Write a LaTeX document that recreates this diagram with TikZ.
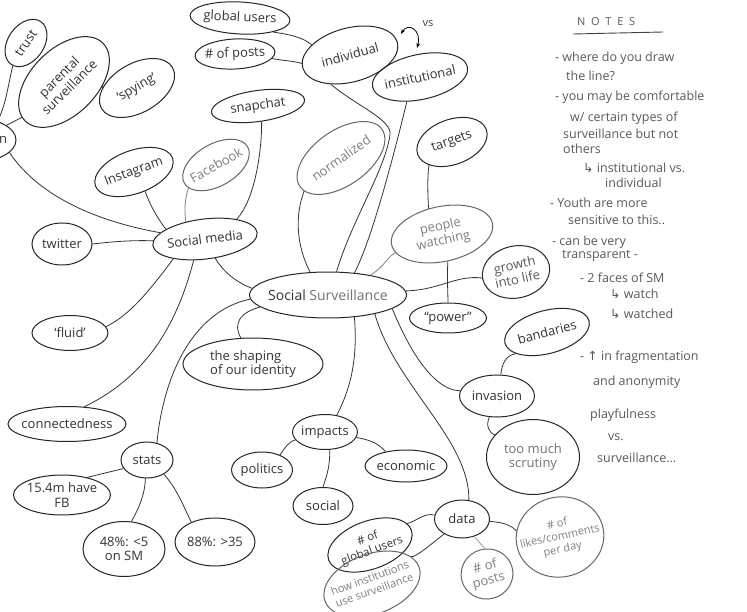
\documentclass[tikz,border=0pt]{standalone}
\usepackage{fontspec}
\setmainfont{Open Sans}
\newfontfamily\sym{DejaVu Sans}
\usetikzlibrary{shapes.geometric,arrows.meta}
\begin{document}
\begin{tikzpicture}[x=1pt,y=-1pt,
  bub/.style={ellipse,draw=black!85,line width=1pt,inner sep=-25pt,
    font=\fontsize{13}{14.5}\selectfont,align=center,text=black!80},
  lite/.style={text=black!50,draw=black!60},
  con/.style={draw=black!80,line width=0.8pt},
  note/.style={anchor=west,inner sep=0pt,font=\fontsize{12.5}{14}\selectfont,text=black!65}]
\useasboundingbox (0,0) rectangle (747,612);
\fill[white] (0,0) rectangle (747,612);

% ---------- nodes ----------
\node[bub,minimum width=52,minimum height=36,rotate=55] (trust) at (26,43) {trust};
\node[bub,minimum width=82,minimum height=44,text width=64,align=right] (nnode) at (-25,140) {n};
\node[bub,minimum width=110,minimum height=66,rotate=45] (par) at (64,82) {parental\\surveillance};
\node[bub,minimum width=82,minimum height=49,rotate=30] (spy) at (137,88) {‘spying’};
\node[bub,minimum width=100,minimum height=32,rotate=-3] (gusers) at (240,18) {global users};
\node[bub,minimum width=80,minimum height=30,rotate=3] (posts) at (235,54) {\# of posts};
\node[bub,minimum width=98,minimum height=54,rotate=15] (indiv) at (350,55) {individual};
\node[bub,minimum width=97,minimum height=45,rotate=12] (inst) at (420,77) {institutional};
\node[bub,minimum width=94,minimum height=31,rotate=8] (snap) at (258,106) {snapchat};
\node[bub,lite,minimum width=73,minimum height=42,rotate=30] (fb) at (216,165) {Facebook};
\node[bub,minimum width=82,minimum height=43,rotate=20] (insta) at (134,172) {Instagram};
\node[bub,minimum width=105,minimum height=40,rotate=7] (sm) at (205,239) {Social media};
\node[bub,minimum width=60,minimum height=42] (tw) at (62,244) {twitter};
\node[bub,minimum width=76,minimum height=35] (fluid) at (70,333) {‘fluid’};
\node[bub,minimum width=118,minimum height=35] (conn) at (67,424) {connectedness};
\node[bub,minimum width=52,minimum height=36] (stats) at (147,460) {stats};
\node[bub,minimum width=97,minimum height=40] (fb15) at (62,495) {15.4m have\\FB};
\node[bub,minimum width=82,minimum height=55] (p48) at (124,549) {48\%: <5\\on SM};
\node[bub,minimum width=80,minimum height=48] (p88) at (215,542) {88\%: >35};
\node[bub,minimum width=157,minimum height=46,font=\fontsize{14}{16}\selectfont] (ss) at (328,295) {Social \textcolor{black!55}{Surveillance}};
\node[bub,lite,minimum width=100,minimum height=55,rotate=35] (norm) at (341,158) {normalized};
\node[bub,minimum width=73,minimum height=45,rotate=20] (targets) at (452,142) {targets};
\node[bub,lite,minimum width=103,minimum height=55,rotate=12] (pw) at (442,234) {people\\watching};
\node[bub,minimum width=68,minimum height=52,rotate=12,text=black!65] (growth) at (516,272) {growth\\into life};
\node[bub,minimum width=77,minimum height=30] (power) at (448,318) {“power”};
\node[bub,minimum width=87,minimum height=43,rotate=15] (bound) at (547,332) {bandaries};
\node[bub,minimum width=75,minimum height=42] (inv) at (497,396) {invasion};
\node[bub,minimum width=93,minimum height=75,text=black!55] (scrut) at (533,457) {too much\\scrutiny};
\node[bub,minimum width=140,minimum height=52,align=left] (shape) at (253,364) {the shaping\\of our identity};
\node[bub,minimum width=65,minimum height=35] (imp) at (325,432) {impacts};
\node[bub,minimum width=61,minimum height=36] (pol) at (262,470) {politics};
\node[bub,minimum width=82,minimum height=32] (eco) at (406,466) {economic};
\node[bub,minimum width=60,minimum height=37] (soc) at (323,506) {social};
\node[bub,minimum width=55,minimum height=38] (data) at (462,519) {data};
\node[bub,minimum width=88,minimum height=48,rotate=20,font=\fontsize{11.5}{13}\selectfont] (gu) at (370,545) {\# of\\global users};
\node[bub,lite,minimum width=100,minimum height=60,rotate=20,font=\fontsize{11}{13}\selectfont] (how) at (372,584) {how institutions\\use surveillance};
\node[bub,lite,minimum width=52,minimum height=50,rotate=15] (posts2) at (487,574) {\# of\\posts};
\node[bub,lite,minimum width=88,minimum height=80,rotate=12,font=\fontsize{11}{13}\selectfont] (likes) at (560,537) {\# of\\likes/comments\\per day};

% ---------- connectors ----------
\draw[con] (ss.175) .. controls (235,282) and (222,270) .. (sm.-69);
\draw[con] (sm.159) .. controls (155,215) and (148,200) .. (insta.-80);
\draw[con,draw=black!50] (sm.131) .. controls (184,210) and (185,198) .. (fb.190);
\draw[con] (sm.25) .. controls (255,200) and (262,150) .. (snap.-85);
\draw[con] (sm.175) .. controls (130,240) and (110,242) .. (tw.0);
\draw[con] (sm.165) .. controls (100,222) and (40,198) .. (nnode.-20);
\draw[con] (sm.205) .. controls (150,290) and (130,315) .. (fluid.10);
\draw[con] (sm.235) .. controls (178,320) and (150,375) .. (conn.45);
\draw[con] (ss.183) .. controls (190,312) and (163,380) .. (stats.60);
\draw[con] (ss.190) .. controls (242,312) and (232,322) .. (shape.115);
\draw[con] (ss.128) .. controls (296,245) and (295,215) .. (norm.187);
\draw[con] (ss.70) .. controls (352,220) and (385,170) .. (390,135) .. controls (393,120) and (355,105) .. (indiv.222);
\draw[con] (ss.40) .. controls (372,240) and (395,150) .. (inst.230);
\draw[con,draw=black!50] (ss.25) .. controls (385,266) and (388,256) .. (pw.190);
\draw[con] (pw.106) .. controls (428,195) and (427,180) .. (targets.205);
\draw[con] (pw.-90) .. controls (447,280) and (448,295) .. (power.90);
\draw[con] (ss.3) .. controls (440,290) and (455,275) .. (growth.178);
\draw[con] (ss.-12) .. controls (405,340) and (430,390) .. (inv.172);
\draw[con] (inv.80) .. controls (502,365) and (505,355) .. (bound.200);
\draw[con] (inv.250) .. controls (486,425) and (488,432) .. (scrut.150);
\draw[con] (ss.-22) .. controls (395,385) and (470,440) .. (data.70);
\draw[con] (ss.-40) .. controls (358,360) and (350,390) .. (imp.55);
\draw[con] (imp.195) .. controls (288,442) and (285,448) .. (pol.40);
\draw[con] (imp.-10) .. controls (372,440) and (380,445) .. (eco.145);
\draw[con] (imp.-75) .. controls (330,470) and (325,480) .. (soc.90);
\draw[con] (data.172) .. controls (425,512) and (415,522) .. (gu.10);
\draw[con] (data.220) .. controls (430,545) and (415,558) .. (how.15);
\draw[con,draw=black!40] (data.-55) -- (posts2.80);
\draw[con] (data.-5) .. controls (500,522) and (510,524) .. (likes.160);
\draw[con] (stats.200) -- (fb15.35);
\draw[con] (stats.-95) .. controls (145,495) and (138,510) .. (p48.75);
\draw[con] (stats.-40) .. controls (178,490) and (185,510) .. (p88.140);
\draw[con] (trust.185) .. controls (8,85) and (6,105) .. (nnode.40);
\draw[con] (nnode.25) -- (par.175);
\draw[con] (par.-50) -- (spy.150);
\draw[con] (gusers.-20) .. controls (300,36) and (305,40) .. (indiv.150);
\draw[con] (posts.-10) .. controls (285,61) and (295,61) .. (indiv.175);

% vs arrow
\draw[line width=0.8pt,{Stealth[length=5pt]}-{Stealth[length=5pt]}] (401,34) .. controls (408,22) and (422,30) .. (417,48);
\node[font=\fontsize{11}{12}\selectfont,text=black!75] (vs) at (428,24) {vs};

% ---------- notes ----------
\node[note,font=\fontsize{11}{12}\selectfont] (nt) at (577,22) {N\ \ O\ \ T\ \ E\ \ S};
\draw[line width=0.9pt,black!75] (573,34) -- (663,32);
\node[note] at (555,58) {- where do you draw};
\node[note] at (566,76) {the line?};
\node[note] at (555,97) {- you may be comfortable};
\node[note] at (570,118) {w/ certain types of};
\node[note] at (563,134) {surveillance but not};
\node[note] at (563,149) {others};
\node[note] at (583,168) {{\sym ↳} institutional vs.};
\node[note] at (605,183) {individual};
\node[note] at (550,203) {- Youth are more};
\node[note] at (568,220) {sensitive to this..};
\node[note] at (552,242) {- can be very};
\node[note] at (562,256) {transparent -};
\node[note] at (580,278) {- 2 faces of SM};
\node[note] at (610,294) {{\sym ↳} watch};
\node[note] at (610,314) {{\sym ↳} watched};
\node[note] at (580,357) {- {\sym ↑} in fragmentation};
\node[note] at (593,382) {and anonymity};
\node[note] at (590,415) {playfulness};
\node[note] at (608,437) {vs.};
\node[note] at (597,458) {surveillance...};
\end{tikzpicture}
\end{document}
